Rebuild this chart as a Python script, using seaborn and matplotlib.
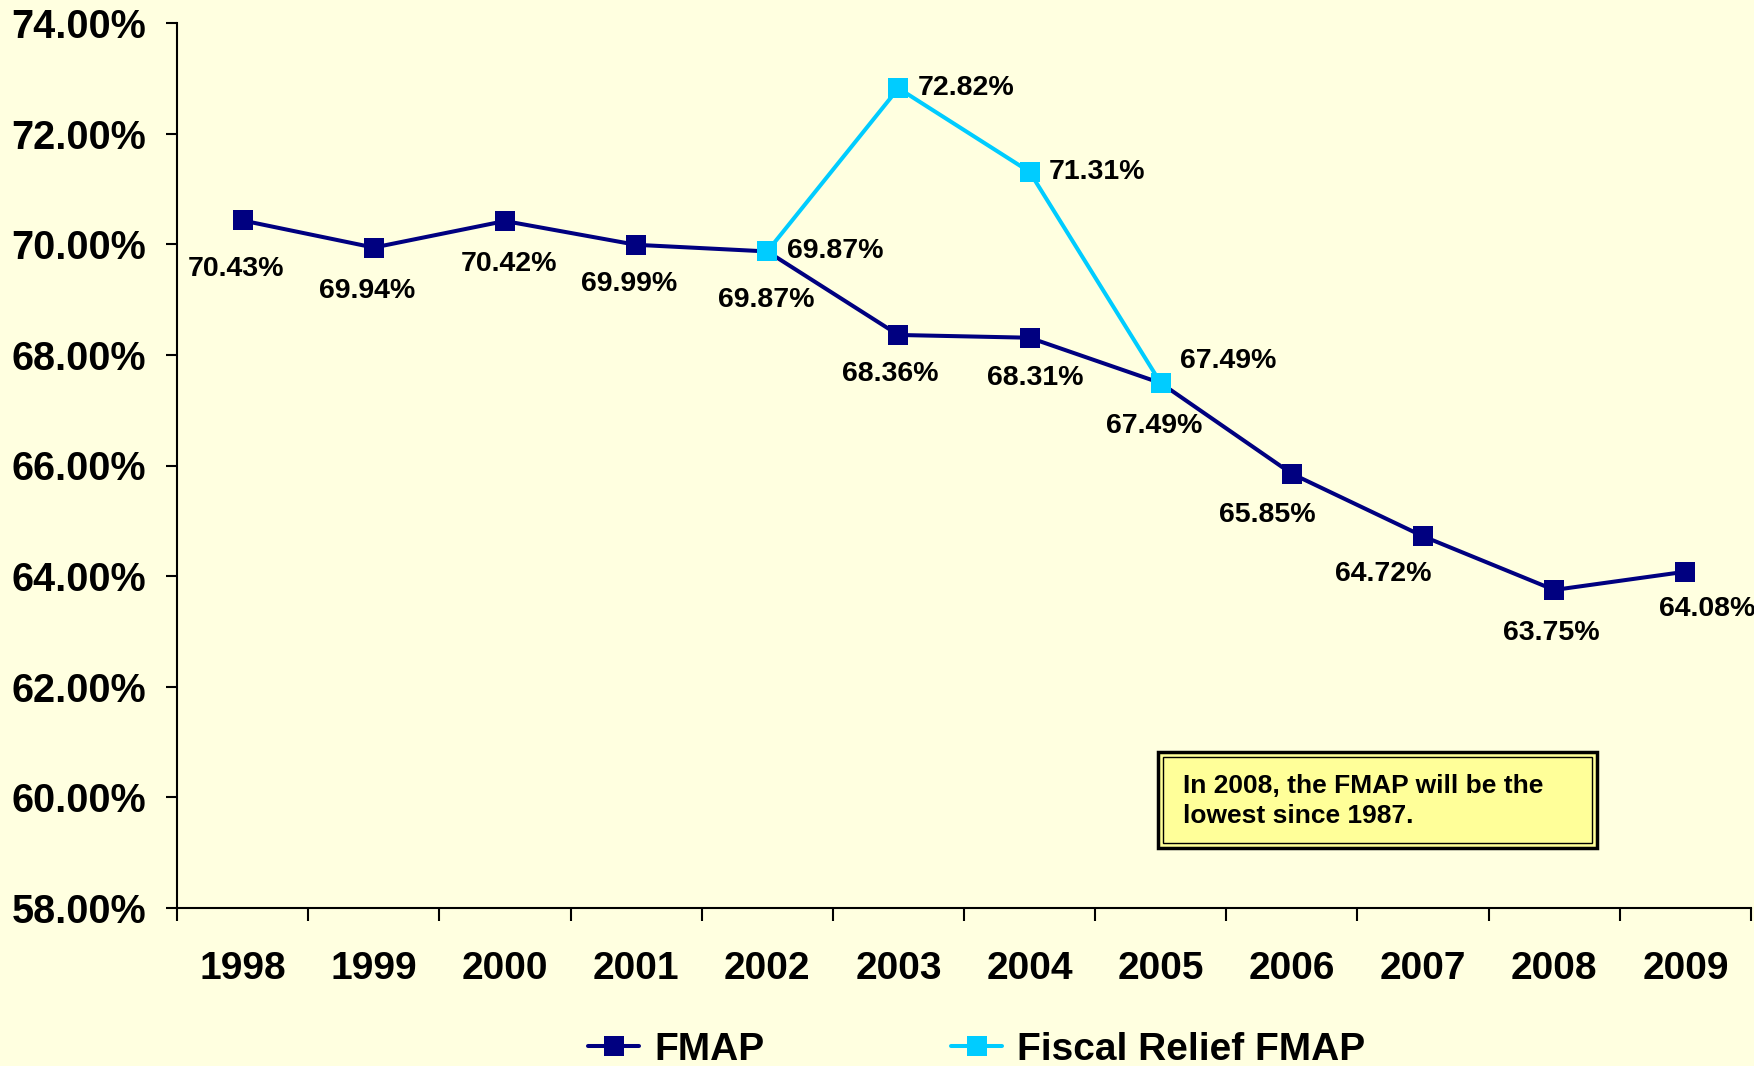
import numpy as np
import pandas as pd
import matplotlib
matplotlib.use("Agg")
import matplotlib.pyplot as plt
from matplotlib.patches import Rectangle
from matplotlib.ticker import FuncFormatter, FixedLocator
import seaborn as sns

# data
years = ["1998", "1999", "2000", "2001", "2002", "2003",
         "2004", "2005", "2006", "2007", "2008", "2009"]
fmap = [70.43, 69.94, 70.42, 69.99, 69.87, 68.36,
        68.31, 67.49, 65.85, 64.72, 63.75, 64.08]
fiscal_relief = [np.nan, np.nan, np.nan, np.nan, 69.87, 72.82,
                 71.31, 67.49, np.nan, np.nan, np.nan, np.nan]
note_text = "In 2008, the FMAP will be the\nlowest since 1987."

# label nudges (points) for the FMAP value labels, Excel-style placement
label_offsets = [(-5, -35), (-5, -31), (3, -31), (-5, -28), (-1, -35), (-6, -28),
                 (4, -29), (-5, -31), (-18, -30), (-29, -27), (-2, -31), (16, -27)]

bg = "#FFFFE0"
navy = "#000080"
cyan = "#00CCFF"

sns.set_theme(style="ticks")
plt.rcParams["font.family"] = ["Liberation Sans", "DejaVu Sans"]
plt.rcParams["font.weight"] = "bold"
plt.rcParams["text.color"] = "black"
plt.rcParams["xtick.color"] = "black"
plt.rcParams["ytick.color"] = "black"

df = pd.DataFrame({"pos": np.arange(len(years)), "FMAP": fmap,
                   "Fiscal Relief FMAP": fiscal_relief})

fig = plt.figure(figsize=(17.54, 10.66), dpi=100, facecolor=bg)
ax = fig.add_axes([177 / 1754, 1 - 908 / 1066, (1751 - 177) / 1754, (908 - 23) / 1066])
ax.set_facecolor(bg)

sns.lineplot(data=df, x="pos", y="FMAP", ax=ax, color=navy, lw=2.9,
             marker="s", markersize=14, markeredgewidth=0, label="FMAP")
sns.lineplot(data=df.dropna(), x="pos", y="Fiscal Relief FMAP", ax=ax, color=cyan,
             lw=2.9, marker="s", markersize=14, markeredgewidth=0,
             label="Fiscal Relief FMAP")

# data labels
for i, v in enumerate(fmap):
    ax.annotate(f"{v:.2f}%", (i, v), xytext=label_offsets[i], textcoords="offset points",
                ha="center", va="center", fontsize=20.5, fontweight="bold", color="black")
for i, v in enumerate(fiscal_relief):
    if np.isnan(v):
        continue
    dy = 16 if i == 7 else 0
    ax.annotate(f"{v:.2f}%", (i, v), xytext=(14, dy), textcoords="offset points",
                ha="left", va="center", fontsize=20.5, fontweight="bold", color="black")

ax.set_ylim(58, 74)
ax.set_yticks(np.arange(58, 74.1, 2))
ax.yaxis.set_major_formatter(FuncFormatter(lambda y, _: f"{y:.2f}%"))
ax.set_xlim(-0.5, len(years) - 0.5)
ax.set_xticks(np.arange(len(years)))
ax.set_xticklabels(years)
ax.xaxis.set_minor_locator(FixedLocator(np.arange(-0.5, len(years), 1)))
ax.tick_params(axis="x", which="major", length=0, pad=31, labelsize=28)
ax.tick_params(axis="x", which="minor", length=9, width=1.5, color="black")
ax.tick_params(axis="y", length=8, width=1.5, color="black", pad=14, labelsize=28.5)
for lbl in ax.get_xticklabels() + ax.get_yticklabels():
    lbl.set_fontweight("bold")
    lbl.set_color("black")
ax.set_xlabel("")
ax.set_ylabel("")
sns.despine(ax=ax)
for s in ("left", "bottom"):
    ax.spines[s].set_color("black")
    ax.spines[s].set_linewidth(1.5)

# legend at the bottom
handles, labels = ax.get_legend_handles_labels()
ax.legend_.remove()
fig.legend(handles, labels, loc="center", bbox_to_anchor=(977 / 1754, 1 - 1050 / 1066),
           ncol=2, frameon=False, handlelength=1.3, handletextpad=0.4,
           columnspacing=4.8, labelcolor="black",
           prop={"family": ["Liberation Sans", "DejaVu Sans"],
                 "weight": "bold", "size": 28})

# note box with double border
W, H = 1754, 1066
x0, y0, x1, y1 = 1158, 752, 1597, 848
fig.patches.append(Rectangle((x0 / W, 1 - y1 / H), (x1 - x0) / W, (y1 - y0) / H,
                             transform=fig.transFigure, facecolor="#FFFF99",
                             edgecolor="black", lw=2.5, zorder=5))
ins = 5
fig.patches.append(Rectangle(((x0 + ins) / W, 1 - (y1 - ins) / H),
                             (x1 - x0 - 2 * ins) / W, (y1 - y0 - 2 * ins) / H,
                             transform=fig.transFigure, facecolor="none",
                             edgecolor="black", lw=1, zorder=6))
fig.text(1183 / W, 1 - 801 / H, note_text, ha="left", va="center", fontsize=19,
         fontweight="bold", linespacing=1.35, color="black", zorder=7)

fig.savefig("out.png", dpi=100, facecolor=bg)
